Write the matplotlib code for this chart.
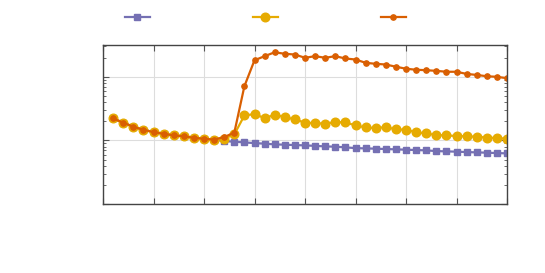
import numpy as np
import matplotlib.pyplot as plt

###########################################################
# data

steps = np.arange(1, 41)

# shared part of all three series (steps 1-11)
shared = [2.21, 1.90, 1.64, 1.47, 1.35, 1.27, 1.20, 1.16, 1.10, 1.06, 1.03]

blue_tail = [0.975, 0.954, 0.930, 0.907, 0.888, 0.866, 0.856, 0.844, 0.835, 0.820,
             0.805, 0.796, 0.777, 0.757, 0.748, 0.741, 0.731, 0.723, 0.714, 0.705,
             0.697, 0.679, 0.672, 0.665, 0.655, 0.648, 0.641, 0.632, 0.625]

yellow_tail = [1.07, 1.24, 2.47, 2.59, 2.24, 2.53, 2.32, 2.14, 1.90, 1.87,
               1.83, 1.94, 1.92, 1.72, 1.60, 1.56, 1.62, 1.49, 1.47, 1.34,
               1.29, 1.21, 1.20, 1.17, 1.16, 1.14, 1.11, 1.09, 1.06]

orange_tail = [1.13, 1.32, 7.12, 18.2, 21.1, 24.3, 23.0, 22.4, 19.9, 21.1,
               19.9, 21.1, 19.4, 18.7, 16.6, 16.0, 15.6, 14.4, 13.4, 12.9,
               12.7, 12.4, 12.0, 12.0, 11.1, 10.7, 10.2, 10.0, 9.5]

blue = shared + blue_tail
yellow = shared + yellow_tail
orange = shared + orange_tail

###########################################################
# plot

fig = plt.figure(figsize=(5.45, 2.73), dpi=100)
ax = fig.add_axes([103/545, 1-204/273, 404/545, 159/273])

ax.plot(steps, blue, color='#7570b3', marker='s', ms=5, lw=1.6, label=' ')
ax.plot(steps, yellow, color='#e6ab02', marker='o', ms=6.2, lw=1.6, label=' ')
ax.plot(steps, orange, color='#d95f02', marker='o', ms=3.8, lw=1.6, label=' ')

ax.set_yscale('log')
ax.set_ylim(10**-1.0, 10**1.5)
ax.set_xlim(0, 40)
ax.set_xticks(np.arange(0, 41, 5))
ax.grid(True, which='major', color='#dddddd', lw=0.8)
ax.tick_params(which='both', direction='in', top=True, right=True,
               labelbottom=False, labelleft=False, color='#555555')
ax.tick_params(which='major', length=4)
ax.tick_params(which='minor', length=2)
for sp in ax.spines.values():
    sp.set_color('#444444')
    sp.set_linewidth(1.0)

fig.legend(loc='center', bbox_to_anchor=(273/545, 1-17.5/273), ncol=3,
           frameon=False, columnspacing=6.3, handlelength=1.8)

plt.savefig('out.png', dpi=100)
